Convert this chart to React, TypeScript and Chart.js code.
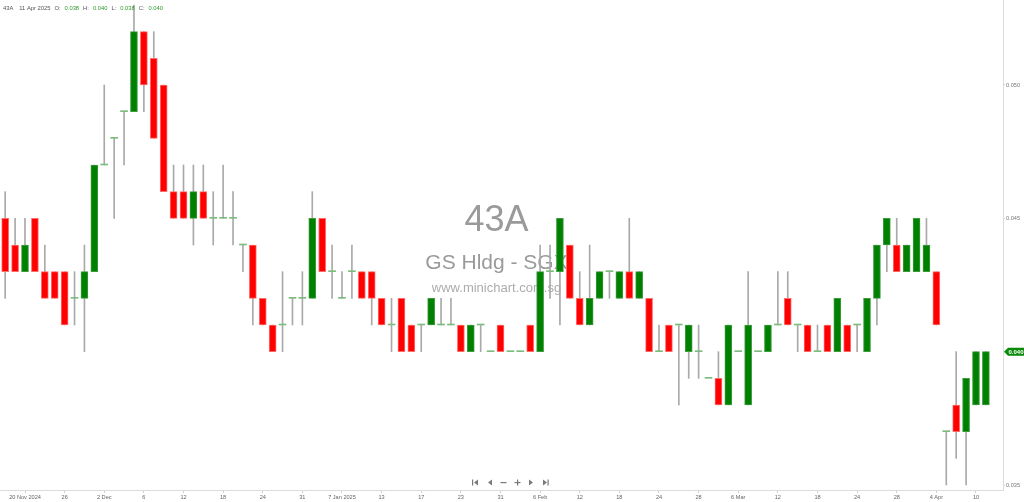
import React, { useEffect, useRef } from 'react';
import { Chart, registerables } from 'chart.js';

Chart.register(...registerables);

const symbol = '43A';
const companyName = 'GS Hldg - SGX';
const siteName = 'www.minichart.com.sg';
const lastDateLabel = '11 Apr 2025';

// Daily OHLC, 18 Nov 2024 .. 11 Apr 2025 (SGD)
const opens = [
  0.045, 0.044, 0.043, 0.045, 0.043, 0.043, 0.043, 0.042, 0.042, 0.043,
  0.047, 0.048, 0.049, 0.049, 0.052, 0.051, 0.050, 0.046, 0.046, 0.045,
  0.046, 0.045, 0.045, 0.045, 0.044, 0.044, 0.042, 0.041, 0.041, 0.042,
  0.042, 0.042, 0.045, 0.043, 0.042, 0.043, 0.043, 0.043, 0.042, 0.041,
  0.042, 0.041, 0.041, 0.041, 0.041, 0.041, 0.041, 0.040, 0.041, 0.040,
  0.041, 0.040, 0.040, 0.041, 0.040, 0.043, 0.043, 0.044, 0.042, 0.041,
  0.042, 0.043, 0.042, 0.043, 0.042, 0.042, 0.040, 0.041, 0.041, 0.040,
  0.040, 0.039, 0.039, 0.038, 0.040, 0.038, 0.040, 0.040, 0.041, 0.042,
  0.041, 0.041, 0.040, 0.041, 0.040, 0.041, 0.041, 0.040, 0.042, 0.044,
  0.044, 0.043, 0.043, 0.043, 0.043, 0.037, 0.038, 0.037, 0.038, 0.038,
];
const highs = [
  0.046, 0.045, 0.045, 0.045, 0.044, 0.043, 0.043, 0.043, 0.044, 0.047,
  0.050, 0.048, 0.049, 0.053, 0.052, 0.052, 0.050, 0.047, 0.047, 0.047,
  0.047, 0.046, 0.047, 0.046, 0.044, 0.044, 0.042, 0.041, 0.043, 0.042,
  0.043, 0.046, 0.045, 0.044, 0.043, 0.044, 0.043, 0.043, 0.042, 0.042,
  0.042, 0.041, 0.041, 0.042, 0.042, 0.042, 0.041, 0.041, 0.041, 0.040,
  0.041, 0.040, 0.040, 0.041, 0.044, 0.044, 0.045, 0.044, 0.043, 0.044,
  0.043, 0.043, 0.043, 0.045, 0.043, 0.042, 0.041, 0.041, 0.041, 0.041,
  0.041, 0.039, 0.040, 0.041, 0.040, 0.043, 0.040, 0.041, 0.043, 0.043,
  0.041, 0.041, 0.041, 0.041, 0.042, 0.041, 0.041, 0.042, 0.044, 0.045,
  0.045, 0.044, 0.045, 0.045, 0.043, 0.037, 0.040, 0.039, 0.040, 0.040,
];
const lows = [
  0.042, 0.043, 0.043, 0.043, 0.042, 0.042, 0.041, 0.041, 0.040, 0.043,
  0.047, 0.045, 0.047, 0.049, 0.049, 0.048, 0.046, 0.045, 0.045, 0.044,
  0.045, 0.044, 0.045, 0.044, 0.043, 0.041, 0.041, 0.040, 0.040, 0.041,
  0.041, 0.042, 0.043, 0.042, 0.042, 0.042, 0.042, 0.041, 0.041, 0.040,
  0.040, 0.040, 0.040, 0.041, 0.041, 0.041, 0.040, 0.040, 0.040, 0.040,
  0.040, 0.040, 0.040, 0.040, 0.040, 0.042, 0.041, 0.042, 0.041, 0.041,
  0.042, 0.042, 0.042, 0.042, 0.042, 0.040, 0.040, 0.040, 0.038, 0.039,
  0.039, 0.039, 0.038, 0.038, 0.040, 0.038, 0.040, 0.040, 0.041, 0.041,
  0.040, 0.040, 0.040, 0.040, 0.040, 0.040, 0.040, 0.040, 0.041, 0.043,
  0.043, 0.043, 0.043, 0.043, 0.041, 0.035, 0.036, 0.035, 0.038, 0.038,
];
const closes = [
  0.043, 0.043, 0.044, 0.043, 0.042, 0.042, 0.041, 0.042, 0.043, 0.047,
  0.047, 0.048, 0.049, 0.052, 0.050, 0.048, 0.046, 0.045, 0.045, 0.046,
  0.045, 0.045, 0.045, 0.045, 0.044, 0.042, 0.041, 0.040, 0.041, 0.042,
  0.042, 0.045, 0.043, 0.043, 0.042, 0.043, 0.042, 0.042, 0.041, 0.041,
  0.040, 0.040, 0.041, 0.042, 0.041, 0.041, 0.040, 0.041, 0.041, 0.040,
  0.040, 0.040, 0.040, 0.040, 0.043, 0.043, 0.045, 0.042, 0.041, 0.042,
  0.043, 0.043, 0.043, 0.042, 0.043, 0.040, 0.040, 0.040, 0.041, 0.041,
  0.040, 0.039, 0.038, 0.041, 0.040, 0.041, 0.040, 0.041, 0.041, 0.041,
  0.041, 0.040, 0.040, 0.040, 0.042, 0.040, 0.041, 0.042, 0.044, 0.045,
  0.043, 0.044, 0.045, 0.044, 0.041, 0.037, 0.037, 0.039, 0.040, 0.040,
];

const tickPositions = [2, 6, 10, 14, 18, 22, 26, 30, 34, 38, 42, 46, 50, 54, 58, 62, 66, 70, 74, 78, 82, 86, 90, 94, 98];
const tickLabels = [
  '20 Nov 2024', '26', '2 Dec', '6', '12', '18', '24', '31', '7 Jan 2025', '13', '17', '23', '31',
  '6 Feb', '12', '18', '24', '28', '6 Mar', '12', '18', '24', '28', '4 Apr', '10',
];
const priceTicks = [0.035, 0.045, 0.05];

const X_MIN = -0.524;
const X_MAX = 100.727;
const Y_MIN = 0.034813;
const Y_MAX = 0.053187;

const UP = '#008000';
const UP_EDGE = '#3c9c3c';
const DOWN = '#ff0000';
const DOWN_EDGE = '#ff6b6b';
const WICK = '#a9a9a9';
const DOJI = '#7cbc7c';
const FONT = '"Liberation Sans", Arial, sans-serif';

const wickData: any[] = [];
const bodyData: any[] = [];
const bodyFill: string[] = [];
const bodyEdge: string[] = [];
const dojiData: any[] = [];
opens.forEach((o, i) => {
  const h = highs[i];
  const l = lows[i];
  const c = closes[i];
  if (h > l) wickData.push({ x: i, y: [l, h] });
  if (o !== c) {
    bodyData.push({ x: i, y: [o, c] });
    bodyFill.push(c > o ? UP : DOWN);
    bodyEdge.push(c > o ? UP_EDGE : DOWN_EDGE);
  } else {
    dojiData.push({ x: i, y: [o, c] });
  }
});

const overlayPlugin = {
  id: 'overlay',
  beforeDatasetsDraw(chart: any) {
    const { ctx, chartArea } = chart;
    const cx = (chartArea.left + chartArea.right) / 2 - 5;
    ctx.save();
    ctx.textAlign = 'center';
    ctx.textBaseline = 'alphabetic';
    ctx.fillStyle = '#9a9a9a';
    ctx.font = `36px ${FONT}`;
    ctx.fillText(symbol, cx, 231);
    ctx.font = `21px ${FONT}`;
    ctx.fillText(companyName, cx, 269);
    ctx.fillStyle = '#acacac';
    ctx.font = `13px ${FONT}`;
    ctx.fillText(siteName, cx, 292);
    ctx.restore();
  },
  afterDraw(chart: any) {
    const { ctx, chartArea, scales } = chart;
    const n = closes.length - 1;
    ctx.save();
    // header line
    ctx.textBaseline = 'middle';
    ctx.textAlign = 'left';
    ctx.font = `5.8px ${FONT}`;
    const parts: [string, string][] = [
      [symbol, '#555'],
      [lastDateLabel, '#555'],
      ['O:', '#555'],
      [opens[n].toFixed(3), '#2e9a2e'],
      ['H:', '#555'],
      [highs[n].toFixed(3), '#2e9a2e'],
      ['L:', '#555'],
      [lows[n].toFixed(3), '#2e9a2e'],
      ['C:', '#555'],
      [closes[n].toFixed(3), '#2e9a2e'],
    ];
    let x = 3;
    parts.forEach(([t, col], k) => {
      ctx.fillStyle = col;
      ctx.fillText(t, x, 8);
      const gap = k === 0 ? 6 : 4;
      x += ctx.measureText(t).width + gap;
    });

    // last price tag
    const yT = scales.y.getPixelForValue(closes[n]);
    const r = chartArea.right;
    ctx.fillStyle = '#0a8a0a';
    ctx.beginPath();
    ctx.moveTo(r + 1, yT);
    ctx.lineTo(r + 5, yT - 4);
    ctx.lineTo(1024, yT - 4);
    ctx.lineTo(1024, yT + 4);
    ctx.lineTo(r + 5, yT + 4);
    ctx.closePath();
    ctx.fill();
    ctx.fillStyle = '#ffffff';
    ctx.font = `bold 6px ${FONT}`;
    ctx.fillText(closes[n].toFixed(3), r + 5.5, yT + 0.5);

    // navigation icons
    const cy = 482.5;
    ctx.fillStyle = '#7a7a7a';
    const tri = (x0: number, dir: number) => {
      ctx.beginPath();
      ctx.moveTo(x0, cy);
      ctx.lineTo(x0 + 4 * dir, cy - 3);
      ctx.lineTo(x0 + 4 * dir, cy + 3);
      ctx.closePath();
      ctx.fill();
    };
    ctx.fillRect(472, cy - 3, 1.2, 6);
    tri(474, 1);
    tri(488, 1);
    ctx.fillRect(500.5, cy - 0.5, 6, 1.2);
    ctx.fillRect(514.5, cy - 0.5, 6, 1.2);
    ctx.fillRect(517, cy - 3, 1.2, 6);
    tri(533, -1);
    tri(547, -1);
    ctx.fillRect(547.5, cy - 3, 1.2, 6);
    ctx.restore();
  },
};

export default function App() {
  const ref = useRef<HTMLCanvasElement>(null);
  useEffect(() => {
    if (!ref.current) return;
    const chart = new Chart(ref.current, {
      type: 'bar',
      data: {
        datasets: [
          {
            type: 'bar',
            data: dojiData,
            backgroundColor: DOJI,
            borderWidth: 0,
            barThickness: 7,
            minBarLength: 1,
            grouped: false,
            order: 1,
          } as any,
          {
            type: 'bar',
            data: bodyData,
            backgroundColor: bodyFill,
            borderColor: bodyEdge,
            borderWidth: 1,
            borderSkipped: false,
            barThickness: 7,
            grouped: false,
            order: 2,
          } as any,
          {
            type: 'bar',
            data: wickData,
            backgroundColor: WICK,
            borderWidth: 0,
            barThickness: 1,
            grouped: false,
            order: 3,
          } as any,
        ],
      },
      options: {
        animation: false,
        responsive: false,
        devicePixelRatio: 1,
        layout: { padding: 0 },
        plugins: { legend: { display: false }, tooltip: { enabled: false } },
        events: [],
        scales: {
          x: {
            type: 'linear',
            min: X_MIN,
            max: X_MAX,
            offset: false,
            afterBuildTicks: (s: any) => {
              s.ticks = tickPositions.map((v) => ({ value: v }));
            },
            afterFit: (s: any) => {
              s.height = 12;
              s.paddingLeft = 0;
              s.paddingRight = 0;
              s.paddingTop = 0;
              s.paddingBottom = 0;
            },
            ticks: {
              autoSkip: false,
              maxRotation: 0,
              padding: 1,
              color: '#666',
              font: { family: FONT, size: 5.6 },
              callback: (_v: any, i: number) => tickLabels[i],
            },
            grid: { display: true, drawOnChartArea: false, drawTicks: true, tickLength: 3, color: '#cfcfcf', offset: false },
            border: { display: true, color: '#dcdcdc' },
          },
          y: {
            type: 'linear',
            position: 'right',
            min: Y_MIN,
            max: Y_MAX,
            afterBuildTicks: (s: any) => {
              s.ticks = priceTicks.map((v) => ({ value: v }));
            },
            afterFit: (s: any) => {
              s.width = 21;
              s.paddingLeft = 0;
              s.paddingRight = 0;
              s.paddingTop = 0;
              s.paddingBottom = 0;
            },
            ticks: {
              padding: 1,
              color: '#777',
              font: { family: FONT, size: 5.6 },
              callback: (v: any) => Number(v).toFixed(3),
            },
            grid: { display: true, drawOnChartArea: false, drawTicks: true, tickLength: 2, color: '#cfcfcf' },
            border: { display: true, color: '#dcdcdc' },
          },
        },
      },
      plugins: [overlayPlugin],
    } as any);
    return () => chart.destroy();
  }, []);
  return (
    <div style={{ position: 'fixed', left: 0, top: 0, width: 1024, height: 502, background: '#fff' }}>
      <canvas ref={ref} width={1024} height={502} style={{ display: 'block', width: 1024, height: 502 }} />
    </div>
  );
}
